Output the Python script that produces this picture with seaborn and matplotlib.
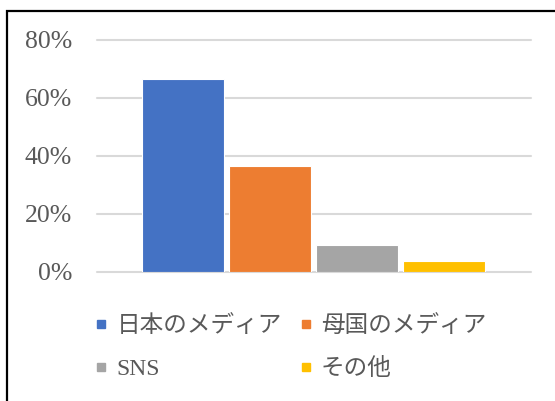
import matplotlib
matplotlib.use("Agg")
import matplotlib.pyplot as plt
from matplotlib.lines import Line2D
from matplotlib.patches import Rectangle
from matplotlib.ticker import PercentFormatter
import seaborn as sns
import pandas as pd

categories = ["日本のメディア", "母国のメディア", "SNS", "その他"]
values = [0.665, 0.365, 0.092, 0.037]
colors = ["#4472C4", "#ED7D31", "#A5A5A5", "#FFC000"]
yticks = [0.0, 0.2, 0.4, 0.6, 0.8]

sns.set_theme(style="white")
plt.rcParams["font.family"] = ["Liberation Serif", "DejaVu Serif"]

df = pd.DataFrame({"cat": categories, "val": values})

fig = plt.figure(figsize=(5.55, 4.01), dpi=100)
ax = fig.add_axes([97/555, 1-271.5/401, (531-97)/555, (271.5-40)/401])

sns.barplot(data=df, x="cat", y="val", hue="cat", palette=colors, order=categories,
            hue_order=categories, width=0.95, dodge=False, legend=False, ax=ax,
            saturation=1, edgecolor="white", linewidth=0.8, zorder=3)

ax.set_xlim(-0.99, 4.0)
ax.set_ylim(0, 0.8)
ax.set_yticks(yticks)
ax.yaxis.set_major_formatter(PercentFormatter(1.0, decimals=0))
ax.set_xticks([])
ax.set_xlabel("")
ax.set_ylabel("")
for s in ax.spines.values():
    s.set_visible(False)
ax.grid(axis="y", color="#D9D9D9", linewidth=1.5, zorder=0)
for gl in ax.get_ygridlines():
    gl.set_clip_on(False)
ax.tick_params(axis="y", length=0, pad=18, labelsize=18.5, labelcolor="#595959")

order = [0, 2, 1, 3]
handles = [Line2D([], [], marker="s", linestyle="none", markersize=5.5,
                  markerfacecolor=colors[i], markeredgecolor=colors[i]) for i in order]
labels = [categories[i] for i in order]
leg = fig.legend(handles, labels, ncol=2, loc="upper left",
                 bbox_to_anchor=(73/555, 1-294/401), frameon=False,
                 prop={"family": ["Liberation Serif", "Noto Sans CJK JP"], "size": 17},
                 handlelength=0.6, handletextpad=0.35, columnspacing=0.7,
                 labelspacing=0.9, labelcolor="#595959")

fig.add_artist(Rectangle((7/555, -0.2), 1.2, 1.2 - 11/401, fill=False,
                         edgecolor="black", linewidth=1.6,
                         transform=fig.transFigure))

fig.savefig("out.png", dpi=100)
